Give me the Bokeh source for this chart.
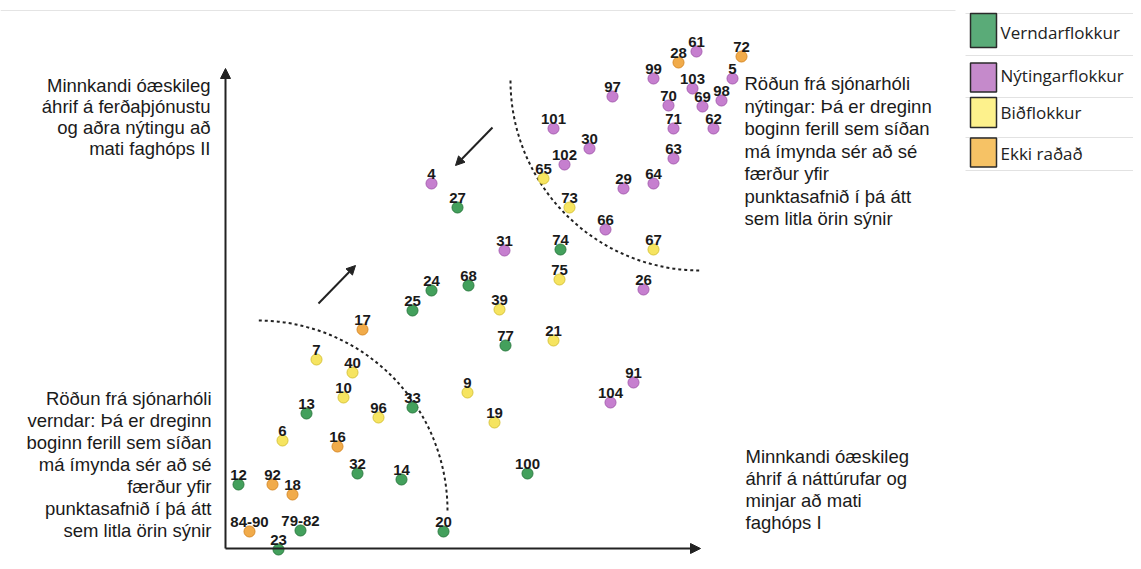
from bokeh.plotting import figure
from bokeh.models import ColumnDataSource, Range1d, Arrow, NormalHead
from bokeh.core.properties import value
from bokeh.embed import file_html
from bokeh.resources import INLINE
import math

# ---------------- data ----------------
# x: reduced undesirable impact on nature/heritage (faghópur I)
# y: reduced undesirable impact on tourism/other use (faghópur II)
vernd_labels = ["27", "74", "24", "68", "25", "77", "13", "33", "32", "14", "12", "79-82", "23", "20", "100"]
vernd_x = [229, 332, 203, 240, 184, 277, 78, 184, 129, 173, 10, 72, 50, 215, 299]
vernd_y = [341, 299, 258, 263, 238, 203, 135, 141, 75, 69, 64, 18, -1, 17, 75]

nyt_labels = ["61", "99", "5", "103", "97", "98", "70", "69", "71", "62", "101", "30", "102", "63",
              "29", "64", "66", "4", "31", "26", "104", "91"]
nyt_x = [468, 425, 504, 464, 384, 493, 440, 474, 445, 485, 325, 361, 336, 445,
         395, 425, 377, 203, 276, 415, 382, 405]
nyt_y = [497, 470, 470, 460, 452, 448, 443, 442, 420, 420, 420, 400, 384, 390,
         360, 365, 319, 365, 298, 259, 146, 166]

bid_labels = ["65", "73", "67", "75", "39", "21", "7", "40", "10", "96", "9", "19", "6"]
bid_x = [315, 341, 425, 331, 271, 325, 88, 124, 115, 150, 239, 266, 54]
bid_y = [370, 341, 299, 269, 239, 208, 189, 176, 151, 131, 156, 126, 108]

ekki_labels = ["28", "72", "17", "16", "92", "18", "84-90"]
ekki_x = [450, 513, 134, 109, 44, 64, 21]
ekki_y = [486, 492, 219, 102, 64, 54, 17]

categories = ["Verndarflokkur", "Nýtingarflokkur", "Biðflokkur", "Ekki raðað"]
cat_fill = ["#43a05c", "#c67fcf", "#f6e460", "#f1ab4a"]
cat_line = ["#2f7d43", "#a862b2", "#d9c640", "#d98d2c"]
legend_fill = ["#5aab78", "#c58acb", "#fdf18c", "#f6c265"]

top_left_text = ["Minnkandi óæskileg", "áhrif á ferðaþjónustu", "og aðra nýtingu að", "mati faghóps II"]
bottom_left_text = ["Röðun frá sjónarhóli", "verndar: Þá er dreginn", "boginn ferill sem síðan",
                    "má ímynda sér að sé", "færður yfir", "punktasafnið í þá átt", "sem litla örin sýnir"]
top_right_text = ["Röðun frá sjónarhóli", "nýtingar: Þá er dreginn", "boginn ferill sem síðan",
                  "má ímynda sér að sé", "færður yfir", "punktasafnið í þá átt", "sem litla örin sýnir"]
bottom_right_text = ["Minnkandi óæskileg", "áhrif á náttúrufar og", "minjar að mati", "faghóps I"]

# ---------------- figure ----------------
p = figure(width=1133, height=561, output_backend="svg", toolbar_location=None,
           x_axis_location=None, y_axis_location=None, min_border=0,
           x_range=Range1d(-228, 905), y_range=Range1d(-13, 548))
p.grid.visible = False
p.outline_line_color = None
p.background_fill_color = "white"

# faint frame line at top
p.segment(x0=[-228], y0=[538], x1=[727], y1=[538], line_color="#e4e4e4", line_width=1)

# axes drawn as arrows
axis_color = "#222222"
p.add_layout(Arrow(end=NormalHead(size=10, fill_color=axis_color, line_color=axis_color),
                   x_start=-3, y_start=0, x_end=-3, y_end=480, line_width=2, line_color=axis_color))
p.add_layout(Arrow(end=NormalHead(size=10, fill_color=axis_color, line_color=axis_color),
                   x_start=-3, y_start=0, x_end=472, y_end=0, line_width=2, line_color=axis_color))

# direction arrows
p.add_layout(Arrow(end=NormalHead(size=9, fill_color=axis_color, line_color=axis_color),
                   x_start=90, y_start=245, x_end=127, y_end=283, line_width=2, line_color=axis_color))
p.add_layout(Arrow(end=NormalHead(size=9, fill_color=axis_color, line_color=axis_color),
                   x_start=264, y_start=421, x_end=227, y_end=383, line_width=2, line_color=axis_color))

# dotted curves
p.arc(x=[29], y=[38], radius=190, start_angle=0, end_angle=math.pi / 2,
      line_color=axis_color, line_width=2, line_dash="3 3")
p.arc(x=[472], y=[468], radius=190, start_angle=math.pi, end_angle=3 * math.pi / 2,
      line_color=axis_color, line_width=2, line_dash="3 3")

# points
groups = [(vernd_x, vernd_y, vernd_labels), (nyt_x, nyt_y, nyt_labels),
          (bid_x, bid_y, bid_labels), (ekki_x, ekki_y, ekki_labels)]
for i, (gx, gy, gl) in enumerate(groups):
    src = ColumnDataSource(dict(x=gx, y=gy, label=gl))
    p.scatter("x", "y", source=src, size=11, fill_color=cat_fill[i], line_color=cat_line[i], line_width=1)
    p.text("x", "y", text="label", source=src, text_align="center", text_baseline="bottom",
           y_offset=-5, text_font=value("Liberation Sans"), text_font_style="bold",
           text_font_size="15px", text_color="#1a1a1a")

# text blocks
def block(lines, x, y0, step, align):
    src = ColumnDataSource(dict(x=[x] * len(lines), y=[y0 - k * step for k in range(len(lines))], t=lines))
    p.text("x", "y", text="t", source=src, text_align=align, text_baseline="middle",
           text_font=value("Liberation Sans"), text_font_size="18.5px", text_color="#1a1a1a")

block(top_left_text, -18, 463, 21, "right")
block(bottom_left_text, -17, 150, 22, "right")
block(top_right_text, 516, 465, 22.5, "left")
block(bottom_right_text, 517, 92, 22, "left")

# legend (manual)
leg_y = [518, 471, 436, 396]
p.segment(x0=[737] * 5, y0=[535, 493, 451, 411, 378], x1=[905] * 5, y1=[535, 493, 451, 411, 378],
          line_color="#e2e2e2", line_width=1)
p.rect(x=[755] * 4, y=leg_y, width=26, height=[34, 29, 30, 29], fill_color=legend_fill,
       line_color="#2a2a2a", line_width=1.5)
p.text(x=[772] * 4, y=[516, 473, 436, 395], text=categories, text_align="left", text_baseline="middle",
       text_font=value("Open Sans"), text_font_size="17px", text_color="#222222")

open("out.html", "w").write(file_html(p, INLINE))
